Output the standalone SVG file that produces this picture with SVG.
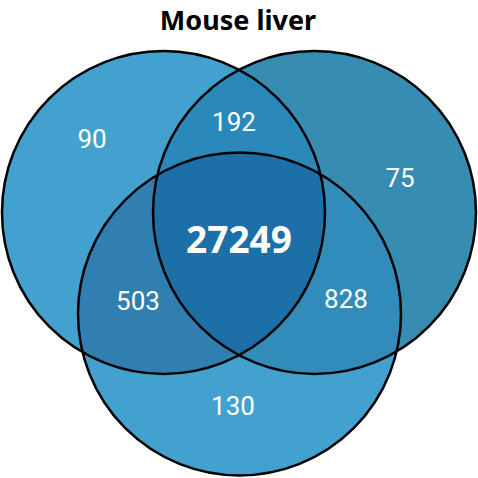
<svg xmlns="http://www.w3.org/2000/svg" width="478" height="478" viewBox="0 0 478 478">
<style>
.lbl{font-family:Roboto,"Noto Sans","Liberation Sans",sans-serif;font-size:26px;fill:#fff;text-anchor:middle}
.big{font-family:"Noto Sans",Roboto,"Liberation Sans",sans-serif;font-size:37px;font-weight:bold;fill:#fff;text-anchor:middle}
.title{font-family:"Noto Sans","Liberation Sans",sans-serif;font-size:27px;font-weight:bold;fill:#000;text-anchor:middle}
.edge{fill:none;stroke:#000;stroke-width:2.5}
</style>
<defs>
<circle id="cA" cx="163.5" cy="212.5" r="161.5"/>
<circle id="cB" cx="314.5" cy="212.5" r="161.5"/>
<circle id="cC" cx="239.5" cy="314" r="161.5"/>
<clipPath id="clipA"><use href="#cA"/></clipPath>
<clipPath id="clipB"><use href="#cB"/></clipPath>
</defs>
<rect width="478" height="478" fill="#fff"/>
<text class="title" x="238" y="30">Mouse liver</text>
<g id="setA"><use href="#cA" fill="#42A1CE"/></g>
<g id="setB"><use href="#cB" fill="#378CB2"/></g>
<g id="setC"><use href="#cC" fill="#43A1CF"/></g>
<g id="AB"><use href="#cB" fill="#2A88BB" clip-path="url(#clipA)"/></g>
<g id="AC"><use href="#cC" fill="#307FB0" clip-path="url(#clipA)"/></g>
<g id="BC"><use href="#cC" fill="#318CBB" clip-path="url(#clipB)"/></g>
<g id="ABC" clip-path="url(#clipA)"><use href="#cC" fill="#1D6FA8" clip-path="url(#clipB)"/></g>
<g id="outlines">
<use href="#cA" class="edge"/>
<use href="#cB" class="edge"/>
<use href="#cC" class="edge"/>
</g>
<g id="labels">
<text class="lbl" x="92" y="148">90</text>
<text class="lbl" x="234" y="131">192</text>
<text class="lbl" x="400" y="187">75</text>
<text class="big" x="239" y="253">27249</text>
<text class="lbl" x="138" y="310">503</text>
<text class="lbl" x="346" y="308">828</text>
<text class="lbl" x="233" y="415">130</text>
</g>
</svg>
